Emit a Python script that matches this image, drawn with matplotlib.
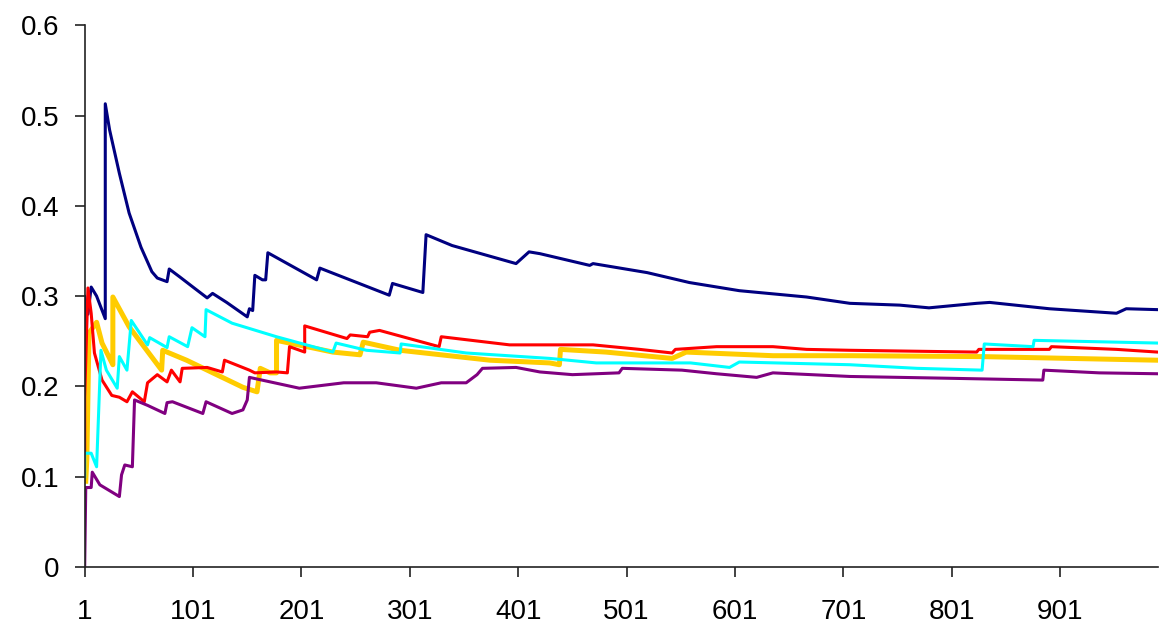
import matplotlib.pyplot as plt

# ==========================
# DATA (breakpoints of each running series)
# ==========================

navy_x = [1, 1, 4, 7, 12, 20, 20, 24, 33, 42, 53, 63, 68, 77, 79, 89, 102, 114, 119,
          132, 151, 153, 156, 158, 165, 168, 170, 215, 218, 282, 285, 313, 316, 340,
          399, 411, 421, 467, 470, 520, 559, 605, 667, 707, 753, 780, 824, 836, 891,
          953, 962, 991]
navy_y = [0.24, 0.30, 0.28, 0.31, 0.30, 0.275, 0.513, 0.484, 0.436, 0.392, 0.354,
          0.327, 0.320, 0.316, 0.330, 0.321, 0.309, 0.298, 0.303, 0.293, 0.277, 0.286,
          0.284, 0.323, 0.318, 0.318, 0.348, 0.318, 0.331, 0.301, 0.314, 0.304, 0.368,
          0.356, 0.336, 0.349, 0.347, 0.334, 0.336, 0.326, 0.315, 0.306, 0.299, 0.292,
          0.290, 0.287, 0.292, 0.293, 0.286, 0.281, 0.286, 0.285]

red_x = [1, 1, 4, 7, 10, 17, 26, 33, 40, 45, 56, 59, 68, 77, 81, 89, 91, 114, 128, 130,
         153, 158, 178, 188, 190, 204, 204, 243, 246, 262, 264, 273, 328, 330, 393,
         470, 513, 543, 546, 584, 636, 667, 707, 824, 826, 891, 893, 953, 991]
red_y = [0.126, 0.188, 0.309, 0.281, 0.237, 0.207, 0.190, 0.188, 0.183, 0.194, 0.183,
         0.204, 0.213, 0.205, 0.218, 0.205, 0.220, 0.221, 0.216, 0.229, 0.218, 0.215,
         0.216, 0.215, 0.244, 0.238, 0.267, 0.253, 0.257, 0.255, 0.260, 0.262, 0.244,
         0.255, 0.246, 0.246, 0.241, 0.237, 0.241, 0.244, 0.244, 0.241, 0.240, 0.238,
         0.241, 0.241, 0.244, 0.241, 0.238]

cyan_x = [1, 1, 7, 12, 16, 21, 31, 33, 40, 44, 59, 61, 77, 79, 96, 100, 112, 113, 137,
          178, 230, 233, 261, 292, 293, 353, 430, 473, 560, 596, 605, 707, 769, 829,
          831, 876, 877, 991]
cyan_y = [0.10, 0.126, 0.126, 0.111, 0.240, 0.218, 0.198, 0.233, 0.218, 0.273, 0.246,
          0.254, 0.243, 0.255, 0.244, 0.265, 0.255, 0.285, 0.270, 0.255, 0.238, 0.248,
          0.240, 0.237, 0.247, 0.237, 0.231, 0.226, 0.226, 0.221, 0.227, 0.224, 0.220,
          0.218, 0.247, 0.244, 0.251, 0.248]

gold_x = [2, 3, 5, 12, 17, 27, 27, 42, 72, 73, 95, 147, 160, 163, 172, 178, 178, 230,
          255, 258, 292, 375, 430, 439, 440, 482, 543, 556, 636, 707, 829, 991]
gold_y = [0.095, 0.12, 0.259, 0.271, 0.248, 0.224, 0.299, 0.266, 0.218, 0.240, 0.229,
          0.199, 0.194, 0.220, 0.215, 0.215, 0.251, 0.238, 0.235, 0.249, 0.240, 0.229,
          0.226, 0.224, 0.241, 0.238, 0.231, 0.238, 0.234, 0.234, 0.233, 0.229]

purple_x = [1, 2, 7, 8, 15, 33, 35, 38, 45, 47, 59, 75, 77, 82, 110, 113, 137, 147, 151,
            153, 199, 240, 270, 307, 330, 353, 363, 368, 399, 421, 451, 494, 497, 552,
            584, 621, 636, 707, 799, 885, 886, 937, 991]
purple_y = [0.0, 0.088, 0.088, 0.105, 0.091, 0.078, 0.102, 0.113, 0.111, 0.185, 0.179,
            0.170, 0.182, 0.183, 0.170, 0.183, 0.170, 0.174, 0.185, 0.210, 0.198, 0.204,
            0.204, 0.198, 0.204, 0.204, 0.213, 0.220, 0.221, 0.216, 0.213, 0.215, 0.220,
            0.218, 0.214, 0.210, 0.215, 0.211, 0.209, 0.207, 0.218, 0.215, 0.214]

x_ticks = [1, 101, 201, 301, 401, 501, 601, 701, 801, 901]
y_ticks = [0, 0.1, 0.2, 0.3, 0.4, 0.5, 0.6]

# ==========================
# CHART
# ==========================

plt.rcParams['font.family'] = ['Liberation Sans', 'DejaVu Sans']

fig, ax = plt.subplots(figsize=(11.6, 6.3), dpi=100)
fig.subplots_adjust(left=0.073, right=0.998, top=0.96, bottom=0.1)

ax.plot(navy_x, navy_y, color='#000080', lw=2.2)
ax.plot(gold_x, gold_y, color='#FFCC00', lw=3.6)
ax.plot(red_x, red_y, color='#FF0000', lw=2.2)
ax.plot(cyan_x, cyan_y, color='#00FFFF', lw=2.2)
ax.plot(purple_x, purple_y, color='#800080', lw=2.2)

ax.set_xlim(1, 991)
ax.set_ylim(0, 0.6)
ax.set_xticks(x_ticks)
ax.set_xticklabels([str(t) for t in x_ticks])
ax.set_yticks(y_ticks)
ax.set_yticklabels(['0', '0.1', '0.2', '0.3', '0.4', '0.5', '0.6'])

for s in ['top', 'right']:
    ax.spines[s].set_visible(False)
for s in ['left', 'bottom']:
    ax.spines[s].set_linewidth(1.2)
    ax.spines[s].set_color('#222222')

ax.tick_params(axis='both', direction='out', length=7, width=1.2,
               labelsize=20, color='#222222')
ax.tick_params(axis='x', pad=16)
ax.tick_params(axis='y', pad=11)

plt.savefig("out.png", dpi=100)
plt.close()
